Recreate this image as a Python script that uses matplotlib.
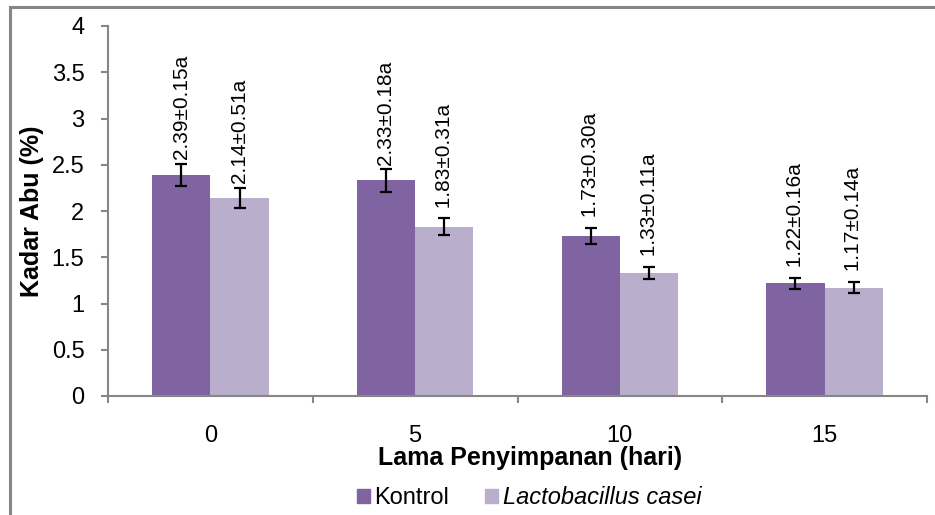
import matplotlib
matplotlib.use("Agg")
import matplotlib.pyplot as plt
from matplotlib.lines import Line2D
from matplotlib.patches import Patch
import numpy as np

plt.rcParams["font.family"] = ["Liberation Sans", "DejaVu Sans"]

# ── data ─────────────────────────────────────────────
days       = ["0", "5", "10", "15"]
kontrol    = [2.39, 2.33, 1.73, 1.22]
casei      = [2.14, 1.83, 1.33, 1.17]
kontrol_err = [0.12, 0.12, 0.09, 0.06]
casei_err   = [0.11, 0.09, 0.07, 0.06]
kontrol_lbl = ["2.39±0.15a", "2.33±0.18a", " 1.73±0.30a", " 1.22±0.16a"]
casei_lbl   = ["2.14±0.51a", " 1.83±0.31a", " 1.33±0.11a", " 1.17±0.14a"]

C_K  = "#8064A2"
C_L  = "#B9AECB"
GRAY = "#868686"

fig = plt.figure(figsize=(9.35, 5.15), dpi=100)
ax = fig.add_axes([108/935, 1 - 396/515, (927 - 108)/935, (396 - 26)/515])

x = np.arange(len(days))
w = 0.285
ekw = dict(ecolor="black", elinewidth=1.6, capsize=4.5, capthick=1.6)
ax.bar(x - w/2, kontrol, w, color=C_K, yerr=kontrol_err, error_kw=ekw, zorder=2)
ax.bar(x + w/2, casei, w, color=C_L, yerr=casei_err, error_kw=ekw, zorder=2)

for xi, v, e, s in zip(x - w/2, kontrol, kontrol_err, kontrol_lbl):
    ax.annotate(s, (xi, v + e), xytext=(0, 3.5), textcoords="offset points",
                rotation=90, ha="center", va="bottom", fontsize=15)
for xi, v, e, s in zip(x + w/2, casei, casei_err, casei_lbl):
    ax.annotate(s, (xi, v + e), xytext=(0, 3.5), textcoords="offset points",
                rotation=90, ha="center", va="bottom", fontsize=15)

ax.set_xlim(-0.5, 3.5)
ax.set_ylim(0, 4)
ax.set_yticks(np.arange(0, 4.01, 0.5))
ax.set_yticklabels(["0", "0.5", "1", "1.5", "2", "2.5", "3", "3.5", "4"])
ax.set_xticks(x)
ax.set_xticklabels(days)
ax.set_xticks(np.arange(-0.5, 3.6, 1), minor=True)
ax.tick_params(axis="x", which="major", length=0, pad=21, labelsize=17)
ax.tick_params(axis="x", which="minor", length=5, width=1.5, color=GRAY, direction="out")
ax.tick_params(axis="y", length=5, width=1.5, color=GRAY, pad=12, labelsize=17)

for side in ["top", "right"]:
    ax.spines[side].set_visible(False)
for side in ["left", "bottom"]:
    ax.spines[side].set_color(GRAY)
    ax.spines[side].set_linewidth(1.5)

fig.text(32/935, 1 - 211/515, "Kadar Abu (%)", rotation=90, ha="center", va="center",
         fontsize=18, fontweight="bold")
fig.text(530/935, 1 - 458/515, "Lama Penyimpanan (hari)", ha="center", va="center",
         fontsize=18, fontweight="bold")

handles = [Patch(color=C_K), Patch(color=C_L)]
leg = fig.legend(handles, ["Kontrol", "Lactobacillus casei"], loc="center",
                 bbox_to_anchor=(529/935, 1 - 498/515), ncol=2, frameon=False,
                 fontsize=17, handlelength=0.55, handleheight=0.55,
                 handletextpad=0.2, columnspacing=1.5, borderpad=0)
leg.get_texts()[1].set_style("italic")

# chart frame (clipped at right/bottom like the source)
fig.add_artist(Line2D([10/935, 1], [1 - 7/515, 1 - 7/515], color=GRAY, lw=2.2))
fig.add_artist(Line2D([10/935, 10/935], [0, 1 - 7/515], color=GRAY, lw=2.2))

fig.savefig("out.png", dpi=100)
